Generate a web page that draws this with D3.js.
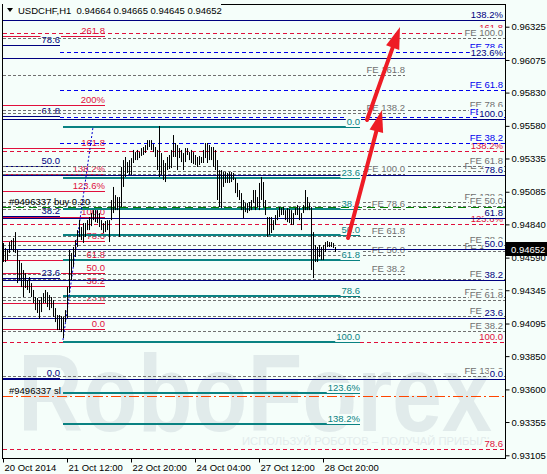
<!DOCTYPE html>
<html><head><meta charset="utf-8">
<script src="https://cdn.jsdelivr.net/npm/d3@7"></script>
<style>body{margin:0;background:#f5fefa}svg{display:block}text{font-family:"Liberation Sans",Arial,sans-serif}</style>
</head><body>
<svg id="c" width="547" height="474"></svg>
<script>
// ---------------- DATA ----------------
const symbolHeader = "USDCHF,H1  0.94664 0.94665 0.94645 0.94652";
const lastPrice = 0.94652;
const yTicks = [0.96325,0.96075,0.95830,0.95580,0.95335,0.95085,0.94840,0.94590,0.94345,0.94095,0.93850,0.93600,0.93355,0.93105];
const xTickBars = [0,32,64,96,128,160];
const xTickLabels = ["20 Oct 2014","21 Oct 12:00","22 Oct 20:00","24 Oct 04:00","27 Oct 12:00","28 Oct 20:00"];

const barHigh = [0.94700,0.94662,0.94647,0.94707,0.94722,0.94737,0.94782,0.94647,0.94572,0.94550,
0.94497,0.94474,0.94422,0.94444,0.94399,0.94347,0.94294,0.94287,0.94271,0.94294,
0.94324,0.94347,0.94331,0.94309,0.94294,0.94271,0.94211,0.94159,0.94159,0.94151,
0.94144,0.94196,0.94369,0.94647,0.94625,0.94670,0.94722,0.94797,0.94872,0.94820,
0.94850,0.94850,0.94872,0.94895,0.94925,0.94947,0.94947,0.94947,0.94925,0.94872,
0.94850,0.94865,0.94872,0.94872,0.95023,0.95121,0.95060,0.95045,0.95045,0.95271,
0.95323,0.95346,0.95308,0.95323,0.95338,0.95399,0.95383,0.95399,0.95383,0.95413,
0.95421,0.95436,0.95473,0.95473,0.95473,0.95443,0.95421,0.95399,0.95579,0.95376,
0.95323,0.95301,0.95346,0.95361,0.95399,0.95511,0.95451,0.95436,0.95413,0.95399,
0.95376,0.95413,0.95413,0.95383,0.95399,0.95383,0.95361,0.95346,0.95354,0.95346,
0.95399,0.95451,0.95451,0.95436,0.95421,0.95421,0.95399,0.95323,0.95248,0.95248,
0.95233,0.95233,0.95226,0.95233,0.95233,0.95226,0.95188,0.95151,0.95098,0.95075,
0.95023,0.95000,0.95000,0.95008,0.95023,0.95098,0.95098,0.95045,0.95151,0.95196,
0.95158,0.95023,0.94895,0.94895,0.94895,0.94872,0.94910,0.94947,0.94970,0.94962,
0.94970,0.94947,0.94962,0.94955,0.94947,0.94925,0.94962,0.94985,0.94970,0.94925,
0.94985,0.95098,0.95045,0.95000,0.94970,0.94782,0.94685,0.94670,0.94685,0.94670,
0.94685,0.94707,0.94715,0.94707,0.94707,0.94700,0.94670];
const barLow = [0.94557,0.94557,0.94572,0.94625,0.94647,0.94632,0.94625,0.94399,0.94422,0.94369,
0.94294,0.94362,0.94347,0.94324,0.94294,0.94249,0.94196,0.94174,0.94129,0.94181,
0.94249,0.94249,0.94219,0.94196,0.94211,0.94144,0.94106,0.94046,0.94046,0.94031,
0.93986,0.94106,0.94136,0.94324,0.94422,0.94520,0.94595,0.94670,0.94745,0.94722,
0.94700,0.94745,0.94797,0.94797,0.94827,0.94872,0.94857,0.94850,0.94820,0.94797,
0.94775,0.94782,0.94797,0.94707,0.94872,0.94925,0.94947,0.94947,0.94745,0.94970,
0.95121,0.95196,0.95226,0.95211,0.95211,0.95301,0.95323,0.95323,0.95338,0.95354,
0.95361,0.95376,0.95399,0.95421,0.95399,0.95383,0.95346,0.95248,0.95196,0.95211,
0.95173,0.95158,0.95248,0.95256,0.95263,0.95346,0.95346,0.95248,0.95338,0.95308,
0.95248,0.95308,0.95361,0.95323,0.95301,0.95293,0.95286,0.95271,0.95286,0.95301,
0.95301,0.95338,0.95301,0.95323,0.95323,0.95271,0.95248,0.95023,0.94970,0.94962,
0.95121,0.95151,0.95151,0.95151,0.95158,0.95173,0.95075,0.95045,0.95023,0.94947,
0.94887,0.94932,0.94925,0.94940,0.94947,0.95000,0.94947,0.94970,0.94947,0.95023,
0.94970,0.94910,0.94745,0.94760,0.94775,0.94797,0.94835,0.94872,0.94895,0.94910,
0.94910,0.94872,0.94857,0.94850,0.94835,0.94835,0.94910,0.94910,0.94872,0.94797,
0.94925,0.94947,0.94947,0.94947,0.94497,0.94437,0.94557,0.94557,0.94595,0.94572,
0.94572,0.94632,0.94670,0.94670,0.94670,0.94662,0.94632];

// Fibonacci objects: anchor prices (0% and 100%), levels, time span in bars
const retrLevels = [0,23.6,38.2,50,61.8,78.6,100,123.6,138.2];
const retrTexts  = ["0.0","23.6","38.2","50.0","61.8","78.6","100.0","123.6%","138.2%"];
const leftNavyLevels = [0,23.6,38.2,50,61.8,78.6];
const leftNavyTexts  = ["0.0","23.6","38.2","50.0","61.8","78.6"];
const redExpLevels = [0,23.6,38.2,50,61.8,78.6,100,123.6,138.2,161.8,200,261.8];
const redExpTexts  = ["0.0","23.6","38.2","50.0","61.8","78.6","100.0","123.6%","138.2%","161.8","200%","261.8"];
const redFullLevels = [78.6,100,123.6,138.2,161.8];
const redFullTexts  = ["78.6","100.0","123.6%","138.2%","161.8"];
const feShort = [38.2,50,61.8,78.6,100];
const feLong  = [38.2,50,61.8,78.6,100,138.2,161.8];
const feHigh  = [138.2,161.8];

const fibs = [
  {id:"redLeft",  p0:0.94054, p100:0.94895, t0:0,    t1:51,    levels:redExpLevels,  texts:redExpTexts},
  {id:"navyLeft", p0:0.93685, p100:0.96869, t0:0,    t1:28.5,  levels:leftNavyLevels,texts:leftNavyTexts},
  {id:"redFull",  p0:0.90200, p100:0.93956, t0:0,    t1:251,   levels:redFullLevels, texts:redFullTexts},
  {id:"fe3",      p0:0.90221, p100:0.92738, t0:0,    t1:251,   levels:feHigh},
  {id:"fe2",      p0:0.93668, p100:0.94640, t0:0,    t1:251,   levels:feLong},
  {id:"fe1",      p0:0.93723, p100:0.96240, t0:0,    t1:251,   levels:feShort},
  {id:"feMid",    p0:0.94000, p100:0.95215, t0:0,    t1:201,   levels:feLong},
  {id:"feBlue",   p0:0.94804, p100:0.96494, t0:28.5, t1:251,   levels:feShort},
  {id:"navyFull", p0:0.93678, p100:0.95632, t0:0,    t1:251,   levels:retrLevels,    texts:retrTexts},
  {id:"teal",     p0:0.95571, p100:0.93956, t0:30,   t1:178.5, levels:retrLevels,    texts:retrTexts}
];

const orderBuy = {price:0.94970, text:"#9496337 buy 0.20"};
const orderSL  = {price:0.93550, text:"#9496337 sl"};
const trendLine = [[30,0.93971],[45,0.95571]];
const arrows = [ [[172.5,0.94737],[189.5,0.95699]], [[182,0.95624],[198.5,0.96323]] ];

// ---------------- DRAW ----------------
const bg = "#f5fefa";
const svg = d3.select("#c");
svg.append("rect").attr("width",547).attr("height",474).attr("fill",bg);
const L=3,R=505,T=5,B=458;
const x = d3.scaleLinear().domain([0,251]).range([3,505]);
const y = d3.scaleLinear().domain([0.93105,0.96325]).range([455.3,26.7]);

svg.append("clipPath").attr("id","pc").append("rect").attr("x",L).attr("y",T).attr("width",R-L).attr("height",B-T);
const plot = svg.append("g").attr("clip-path","url(#pc)");

// watermark
plot.append("text").attr("x",18).attr("y",431).attr("font-size",110).attr("font-weight","bold")
  .attr("textLength",474).attr("lengthAdjust","spacingAndGlyphs").attr("fill","#e1ebeb").text("RoboForex");
plot.append("text").attr("x",242).attr("y",445).attr("font-size",10.5)
  .attr("textLength",252).attr("lengthAdjust","spacingAndGlyphs").attr("fill","#e3ecec").text("ИСПОЛЬЗУЙ РОБОТОВ – ПОЛУЧАЙ ПРИБЫЛЬ");

const styles = {
  redLeft:{c:"#e0103c",dash:null,w:1},
  navyLeft:{c:"#000080",dash:null,w:1},
  redFull:{c:"#e0103c",dash:"4,3",w:1},
  fe3:{c:"#707070",dash:"3,2",w:1},
  fe2:{c:"#707070",dash:"3,2",w:1},
  fe1:{c:"#707070",dash:"3,2",w:1},
  feMid:{c:"#707070",dash:"3,2",w:1},
  feBlue:{c:"#0000ee",dash:"4,3",w:1},
  navyFull:{c:"#000080",dash:null,w:1},
  teal:{c:"#0a8282",dash:null,w:2}
};

function label(g, xEnd, Y, txt, color){
  const t = g.append("text").attr("x",xEnd).attr("y",Y-2).attr("text-anchor","end")
    .attr("font-size",9.5).attr("fill",color).text(txt);
  const w = t.node().getComputedTextLength();
  g.insert("rect", function(){return t.node();}).attr("x",xEnd-w-1).attr("y",Y-10).attr("width",w+2).attr("height",10).attr("fill",bg);
}

fibs.forEach(f=>{
  const st = styles[f.id];
  const g = plot.append("g");
  f.levels.forEach((lv,k)=>{
    const p = f.p0 + (f.p100-f.p0)*lv/100;
    const Y = Math.round(y(p));
    const x0 = x(f.t0), x1 = x(f.t1);
    g.append("line").attr("x1",x0).attr("x2",x1)
      .attr("y1", st.w===2?Y:Y+0.5).attr("y2", st.w===2?Y:Y+0.5)
      .attr("stroke",st.c).attr("stroke-width",st.w).attr("stroke-dasharray",st.dash);
    const txt = f.texts ? f.texts[k] : "FE " + lv.toFixed(1);
    label(g, Math.min(x1,503), Y, txt, st.c);
  });
});

// order lines
{
  const Yb = Math.round(y(orderBuy.price))+0.5;
  plot.append("line").attr("x1",L).attr("x2",R).attr("y1",Yb).attr("y2",Yb).attr("stroke","#008000").attr("stroke-dasharray","8,5");
  plot.append("text").attr("x",9).attr("y",Yb-3).attr("font-size",9.5).attr("fill","#000").text(orderBuy.text);
  const Ys = Math.round(y(orderSL.price))+0.5;
  plot.append("line").attr("x1",L).attr("x2",R).attr("y1",Ys).attr("y2",Ys).attr("stroke","#ff4500").attr("stroke-dasharray","10,3,2,3");
  plot.append("text").attr("x",9).attr("y",Ys-3).attr("font-size",9.5).attr("fill","#000").text(orderSL.text);
}

// trend line
plot.append("line").attr("x1",x(trendLine[0][0])).attr("y1",y(trendLine[0][1]))
  .attr("x2",x(trendLine[1][0])).attr("y2",y(trendLine[1][1]))
  .attr("stroke","#0000cd").attr("stroke-dasharray","2,2");

// arrows
arrows.forEach(a=>{
  const x1=x(a[0][0]),y1=y(a[0][1]),x2=x(a[1][0]),y2=y(a[1][1]);
  const ang=Math.atan2(y2-y1,x2-x1), hl=22, hw=7;
  const bx=x2-hl*Math.cos(ang), by=y2-hl*Math.sin(ang);
  plot.append("line").attr("x1",x1).attr("y1",y1).attr("x2",bx).attr("y2",by)
    .attr("stroke","#ee1c25").attr("stroke-width",4).attr("stroke-linecap","round");
  const px=-Math.sin(ang), py=Math.cos(ang);
  plot.append("path").attr("d",`M${x2},${y2}L${bx+hw*px},${by+hw*py}L${bx-hw*px},${by-hw*py}Z`).attr("fill","#ee1c25");
});

// bars
plot.append("g").selectAll("line").data(barHigh).join("line")
  .attr("x1",(d,i)=>Math.round(x(i))+0.5).attr("x2",(d,i)=>Math.round(x(i))+0.5)
  .attr("y1",d=>y(d)).attr("y2",(d,i)=>y(barLow[i]))
  .attr("stroke","#000").attr("stroke-width",1);

// frame
svg.append("rect").attr("x",L-0.5).attr("y",T-0.5).attr("width",R-L+1).attr("height",B-T+1)
  .attr("fill","none").attr("stroke","#000");

// header
svg.append("rect").attr("x",L).attr("y",0).attr("width",218).attr("height",16).attr("fill",bg);
svg.append("path").attr("d","M7,8L13,8L10,12Z").attr("fill","#000");
svg.append("text").attr("x",18).attr("y",14).attr("font-size",9.5).attr("fill","#000")
  .attr("xml:space","preserve").text(symbolHeader);

// right axis
const yAxis = d3.axisRight(y).tickValues(yTicks).tickFormat(d3.format(".5f")).tickSize(4).tickPadding(2);
const ga = svg.append("g").attr("transform",`translate(${R+0.5},0)`).call(yAxis);
ga.select(".domain").remove();
ga.selectAll("text").attr("font-size",9.5).attr("font-family","Liberation Sans").attr("fill","#000");
ga.selectAll("line").attr("stroke","#000");

// x axis
const xAxis = d3.axisBottom(x).tickValues(xTickBars).tickFormat((d,i)=>xTickLabels[i]).tickSize(4).tickPadding(2);
const gx = svg.append("g").attr("transform",`translate(0,${B+0.5})`).call(xAxis);
gx.select(".domain").remove();
gx.selectAll("text").attr("font-size",9.5).attr("font-family","Liberation Sans").attr("fill","#000")
  .attr("text-anchor","start").attr("dx",1);
gx.selectAll("line").attr("stroke","#000");

// current price tag
{
  const Yp = y(lastPrice);
  svg.append("rect").attr("x",506).attr("y",Math.round(Yp)-7).attr("width",41).attr("height",14).attr("fill","#000");
  svg.append("text").attr("x",511).attr("y",Math.round(Yp)+3.5).attr("font-size",9.5).attr("fill","#fff").text(d3.format(".5f")(lastPrice));
}
</script>
</body></html>
